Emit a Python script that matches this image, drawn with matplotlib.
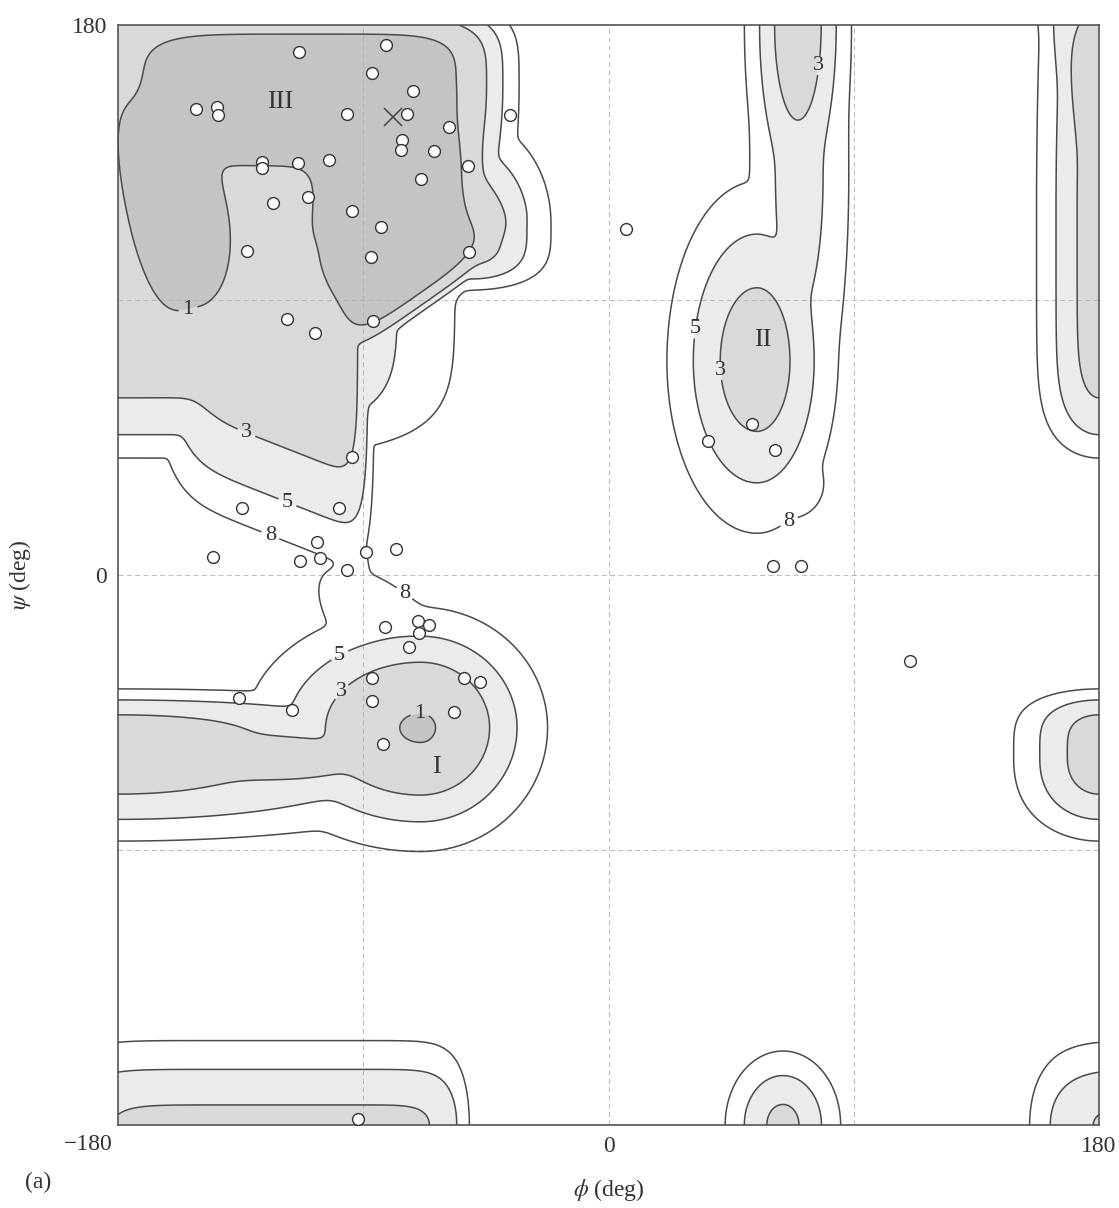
import numpy as np
import matplotlib
matplotlib.use("Agg")
import matplotlib.pyplot as plt

plt.rcParams['font.family'] = ['Liberation Serif', 'DejaVu Serif']
plt.rcParams['mathtext.fontset'] = 'stix'

# ---------------- energy surface: wells (deg, kcal/mol) ----------------
well_name = ["bar", "leftleg", "rightleg", "III_east", "III_bulge", "base_R", "base_L", "neck",
             "I_bowl", "I_valley", "I_mid", "I_funnel",
             "II_main", "II_tail", "II_stripe", "II_top", "bot_lobe", "bot_strip"]
well_phi = [-112, -158, -78, -78, -50, -120, 180, -94, -69, 180, -120, -75, 54.5, 68, 70, 69.5, 64, -120]
well_psi = [160, 118, 108, 130, 115, 89.6, 120, 0, -50, -59, -60, -25, 70, 30, 130, 180, -180, -180]
well_e0 = [0.0, 0.0, 0.0, 0.0, 2.2, 2.2, 2.3, 7.0, 0.9, 2.2, 2.3, 5.6, 2.0, 6.8, 4.1, 1.83, 2.58, 2.7]
well_a_left = [58, 18, 28, 30, 12, 35, 9.6, 6, 24, 13, 35, 25, 13.5, 10, 9.2, 7.9, 9.1, 71]
well_a_right = [56, 18, 27, 24, 12, 28.5, 80, 6, 17.5, 57, 35, 30, 12.1, 10, 9.2, 7.9, 9.1, 60]
well_a_down = [26, 31, 18, 25, 14, 50.3, 65, 15, 15.2, 13.9, 8, 10, 23, 10, 45, 28.7, 10.4, 12]
well_a_up = [17, 40, 22, 30, 14, 80, 80, 15, 14.8, 14, 8, 10, 24, 10, 100, 28.7, 10.4, 12]
well_p_left = [5, 4, 4, 2, 2, 6, 2, 2, 2, 2, 2, 2, 2, 2, 2, 2, 2, 9]
well_p_right = [6, 2, 3, 4, 2, 10, 4, 2, 2, 2, 2, 2, 2, 2, 2, 2, 2, 12]
well_p_down = [2, 2, 6, 6, 4, 4, 7.6, 2, 2, 2.5, 2, 2, 2, 2, 2, 2, 2, 2]
well_p_up = [4, 2, 2, 2, 2, 2, 2, 2, 2, 4, 2, 2, 2, 2, 2, 2, 2, 2]
well_rot = [0, 15, 32, 0, 0, 0, 0, 0, 0, 0, 0, -40, 0, 0, 0, 0, 0, 0]
well_shear = [0, 0, 0, 0, 0, -0.35, 0, 0, 0, 0, 0, 0, 0, 0, 0, 0, 0, 0]

contour_levels = [1, 3, 5, 8]
fill_colors = ['#c4c4c4', '#d9d9d9', '#ebebeb']

# ---------------- conformations (phi, psi) ----------------
pts_phi = [-113.6, -81.6, -86.9, -71.9, -151.4, -143.6, -143.2, -95.9, -74.1, -58.4,
           -75.9, -76.1, -63.9, -127.3, -127.3, -113.8, -102.7, -51.5, -68.9, -110.2,
           -123.0, -94.2, -83.6, -132.8, -87.3, -51.1, -36.1, -118.1, -86.5, -107.7,
           -94.2, -134.6, -98.8, -107.1, -145.0, -113.2, -105.9, -89.1, -78.0, -95.9,
           -82.0, -69.8, -65.8, -69.4, -73.2, -52.9, -47.2, -86.7, -86.7, -135.7,
           -116.3, -56.6, -82.9, 6.4, 52.7, 36.5, 61.1, 60.4, 70.6, 110.6, -91.8]
pts_psi = [171.2, 173.5, 164.4, 158.5, 152.4, 153.3, 150.5, 150.9, 150.9, 146.7,
           142.4, 139.1, 138.8, 135.3, 133.1, 134.7, 135.8, 133.9, 129.6, 123.8,
           121.6, 119.2, 113.8, 106.1, 104.2, 105.8, 150.5, 83.7, 83.1, 79.1,
           38.5, 21.8, 21.8, 10.9, 5.8, 4.7, 5.5, 7.5, 8.6, 1.6,
           -16.9, -15.1, -16.4, -19.1, -23.7, -33.8, -35.1, -33.8, -41.1, -40.2,
           -44.2, -44.9, -55.4, 113.2, 49.4, 43.9, 40.9, 2.9, 2.9, -28.1, -178.0]
cross_phi = [-79.0]
cross_psi = [150.0]

region_text = ["III", "II", "I"]
region_phi = [-120.6, 56.7, -63.0]
region_psi = [154.9, 77.0, -62.7]

label_level = [1, 3, 5, 8, 8, 5, 3, 1, 5, 3, 8, 3]
label_phi = [-154.2, -135.2, -117.5, -123.6, -75.3, -99.7, -96.7, -69.2, 34.7, 42.8, 67.3, 74.6]
label_psi = [86.7, 41.5, 24.5, 14.2, -6.5, -24.5, -39.3, -46.4, 80.2, 67.0, 15.7, 167.0]

x_ticks = [-180, 0, 180]
x_ticklabels = ['', '0', '180']
y_ticks = [0, 180]
y_ticklabels = ['0', '180']


def well_energy(P, S, i):
    dphi = (P - well_phi[i] + 180.0) % 360.0 - 180.0
    dpsi = S - well_psi[i]
    th = np.deg2rad(well_rot[i])
    u = np.cos(th) * dphi + np.sin(th) * dpsi
    v = -np.sin(th) * dphi + np.cos(th) * dpsi
    v = v - well_shear[i] * u
    au = np.where(u < 0, well_a_left[i], well_a_right[i])
    pu = np.where(u < 0, well_p_left[i], well_p_right[i])
    av = np.where(v < 0, well_a_down[i], well_a_up[i])
    pv = np.where(v < 0, well_p_down[i], well_p_up[i])
    return well_e0[i] + np.minimum(np.abs(u / au), 6.0) ** pu + np.minimum(np.abs(v / av), 6.0) ** pv


phi_grid = np.linspace(-180, 180, 721)
psi_grid = np.linspace(-180, 180, 721)
P, S = np.meshgrid(phi_grid, psi_grid)
Q = np.stack([np.minimum(well_energy(P, S, i), 60.0) for i in range(len(well_name))])
T = 0.3
m = Q.min(axis=0)
E = m - T * np.log(np.exp(-(Q - m) / T).sum(axis=0))
E = np.clip(E, 0, 20)

# ---------------- figure ----------------
W, H = 1119, 1208
fig = plt.figure(figsize=(W / 100, H / 100), dpi=100)
fig.patch.set_facecolor('white')
ax = fig.add_axes([118 / W, 1 - 1125 / H, 981 / W, 1100 / H])
ax.set_xlim(-180, 180)
ax.set_ylim(-180, 180)

ax.contourf(P, S, E, levels=[-1, 1, 3, 5], colors=fill_colors, zorder=1)
for g in [-90, 0, 90]:
    ax.axvline(g, color='#b0b0b0', lw=0.6, ls=(0, (6, 4)), zorder=2)
    ax.axhline(g, color='#b0b0b0', lw=0.6, ls=(0, (6, 4)), zorder=2)

for lev in contour_levels:
    cs = ax.contour(P, S, E, levels=[lev], colors='#4a4a4a', linewidths=1.1, zorder=3)
    pos = [(label_phi[k], label_psi[k]) for k in range(len(label_level)) if label_level[k] == lev]
    if pos:
        txts = ax.clabel(cs, manual=pos, inline=True, inline_spacing=4,
                         fmt='%d', fontsize=16, colors='#333333')
        for t in txts:
            t.set_rotation(0)

ax.plot(pts_phi, pts_psi, 'o', mfc='white', mec='#333333', ms=8.5, mew=1.0, zorder=5, ls='none')
ax.plot(cross_phi, cross_psi, 'x', color='#444444', ms=13, mew=1.1, zorder=5, ls='none')

for t, x, y in zip(region_text, region_phi, region_psi):
    ax.text(x, y, t, fontsize=19, ha='center', va='center', color='#333333', zorder=6)

for sp in ax.spines.values():
    sp.set_color('#555555')
    sp.set_linewidth(1.2)

ax.set_xticks(x_ticks)
ax.set_xticklabels(x_ticklabels)
ax.set_yticks(y_ticks)
ax.set_yticklabels(y_ticklabels)
ax.tick_params(length=0, labelsize=17, colors='#333333', pad=8)
ax.text(-0.005, -0.008, '\u2212180', transform=ax.transAxes, ha='right', va='top',
        fontsize=17, color='#333333')

ax.set_xlabel(r'$\phi$ (deg)', fontsize=17, color='#333333', labelpad=14)
ax.set_ylabel(r'$\psi$ (deg)', fontsize=17, color='#333333', labelpad=28)
fig.text(25 / W, 1 - 1182 / H, '(a)', fontsize=17, color='#333333', va='center')

fig.savefig('out.png', dpi=100, facecolor='white')
